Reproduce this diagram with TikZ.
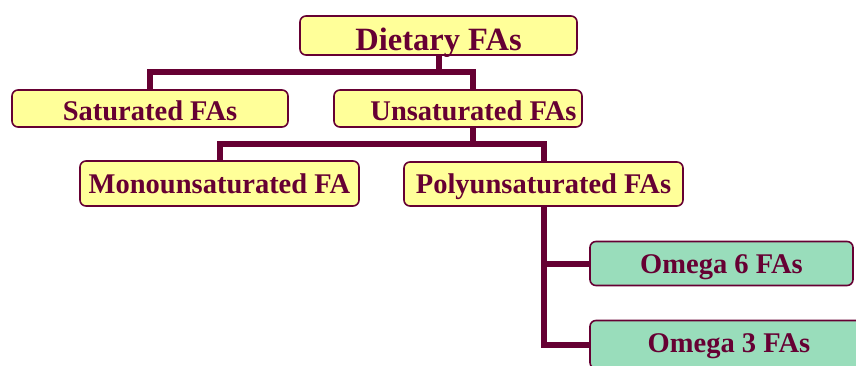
\documentclass[tikz,border=0pt]{standalone}
\usepackage{fontspec}
\setmainfont{Liberation Serif}
\usetikzlibrary{calc}
\definecolor{maroon}{HTML}{660033}
\definecolor{boxyellow}{HTML}{FFFF99}
\definecolor{boxgreen}{HTML}{99DDBB}
\tikzset{
  fabox/.style={draw=maroon, line width=1.6pt, rounded corners=6pt, fill=boxyellow,
    text=maroon, inner sep=0pt, font=\fontsize{28.5}{30}\selectfont\bfseries,
    text height=24pt, text depth=0pt},
  tallbox/.style={fabox, text height=19pt},
  bigbox/.style={fabox, font=\fontsize{32.5}{34}\selectfont\bfseries, text height=30pt},
  greenbox/.style={tallbox, fill=boxgreen},
  conn/.style={draw=maroon, line width=6pt, line join=miter}
}
\begin{document}
\begin{tikzpicture}[x=1pt,y=1pt]
\clip (0,0) rectangle (856,-365);
\node[bigbox, minimum width=277pt, minimum height=39pt] (diet) at (438.5,-35.5) {Dietary FAs};
\node[fabox, minimum width=276pt, minimum height=37pt] (sat) at (150,-108.5) {Saturated FAs};
\node[fabox, minimum width=248pt, minimum height=37pt] (unsat) at (458,-108.5) {\hspace*{31pt}Unsaturated FAs};
\node[tallbox, minimum width=279pt, minimum height=45pt] (mono) at (219.5,-183.5) {Monounsaturated FA};
\node[tallbox, minimum width=279pt, minimum height=44pt] (poly) at (543.5,-184) {Polyunsaturated FAs};
\node[greenbox, minimum width=263pt, minimum height=44pt] (om6) at (721.5,-263.5) {Omega 6 FAs};
\node[greenbox, text height=15pt, minimum width=278pt, minimum height=48pt] (om3) at (729,-344.5) {Omega 3 FAs};
\coordinate (bus1) at (0,-72);
\coordinate (bus2) at (0,-143.5);
\coordinate (utop) at ($(unsat.north)+(15,0)$);
\coordinate (ubot) at ($(unsat.south)+(15,0)$);
\draw[conn] (diet.south) -- (diet.south |- bus1);
\draw[conn] (sat.north) -- (sat.north |- bus1) -- (utop |- bus1) -- (utop);
\draw[conn] (ubot) -- (ubot |- bus2);
\draw[conn] (mono.north) -- (mono.north |- bus2) -- (poly.north |- bus2) -- (poly.north);
\draw[conn] (poly.south) -- (poly.south |- om3.west) -- (om3.west);
\draw[conn] (poly.south |- om6.west) -- (om6.west);
\end{tikzpicture}
\end{document}
